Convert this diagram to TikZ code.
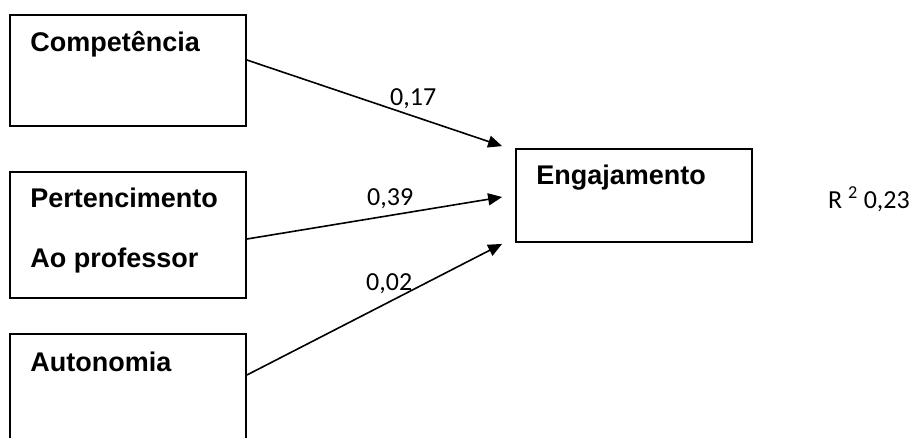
\documentclass[tikz,border=0pt]{standalone}
\usepackage{fontspec}
\setmainfont{Carlito}
\newfontfamily\boxfont{Liberation Sans}
\usepackage{tikz}
\usetikzlibrary{arrows.meta, calc, positioning}

\tikzset{
    box/.style={draw, line width=1.8pt, rectangle, minimum width=236pt, inner sep=0pt},
    boxlbl/.style={anchor=base west, inner sep=0pt, font=\boxfont\bfseries\fontsize{27}{32}\selectfont},
    coef/.style={anchor=base west, inner sep=0pt, font=\fontsize{26}{30}\selectfont},
    arr/.style={line width=1.6pt, -{Triangle[length=14pt, width=12pt]}}
}

\begin{document}
\begin{tikzpicture}[x=1pt, y=-1pt]
    \clip (0,0) rectangle (915,437);
    \fill[white] (0,0) rectangle (915,437);

    \node[box, minimum height=111pt] (comp) at (128, 70.5) {};
    \node[box, minimum height=126pt] (pert) at (128, 235) {};
    \node[box, minimum height=126pt] (auto) at (128, 397) {};
    \node[box, minimum height=93pt] (eng) at (634, 195.5) {};

    \node[boxlbl] (compLbl) at ($(comp.north west) + (21, 37)$) {Competência};
    \node[boxlbl] (pertLbl) at ($(pert.north west) + (21, 36)$) {Pertencimento};
    \node[boxlbl] (profLbl) at ($(pert.north west) + (21, 96)$) {Ao professor};
    \node[boxlbl] (autoLbl) at ($(auto.north west) + (21, 38)$) {Autonomia};
    \node[boxlbl] (engLbl) at ($(eng.north west) + (21, 36)$) {Engajamento};

    \coordinate (tipC) at ($(eng.north west) + (-13, -2)$);
    \coordinate (tipP) at ($(eng.west) + (-13, 1.5)$);
    \coordinate (tipA) at ($(eng.south west) + (-13, 1)$);

    \draw[arr] ($(comp.east) + (0, -10.5)$) -- (tipC);
    \draw[arr] ($(pert.east) + (0, 4)$) -- (tipP);
    \draw[arr] ($(auto.east) + (0, -22)$) -- (tipA);

    \node[coef] (c17) at (390, 105) {0,17};
    \node[coef] (c39) at (367, 205) {0,39};
    \node[coef] (c02) at (366, 290) {0,02};
    \node[coef] (rsq) at (828, 208) {R \textsuperscript{2} 0,23};
\end{tikzpicture}
\end{document}
